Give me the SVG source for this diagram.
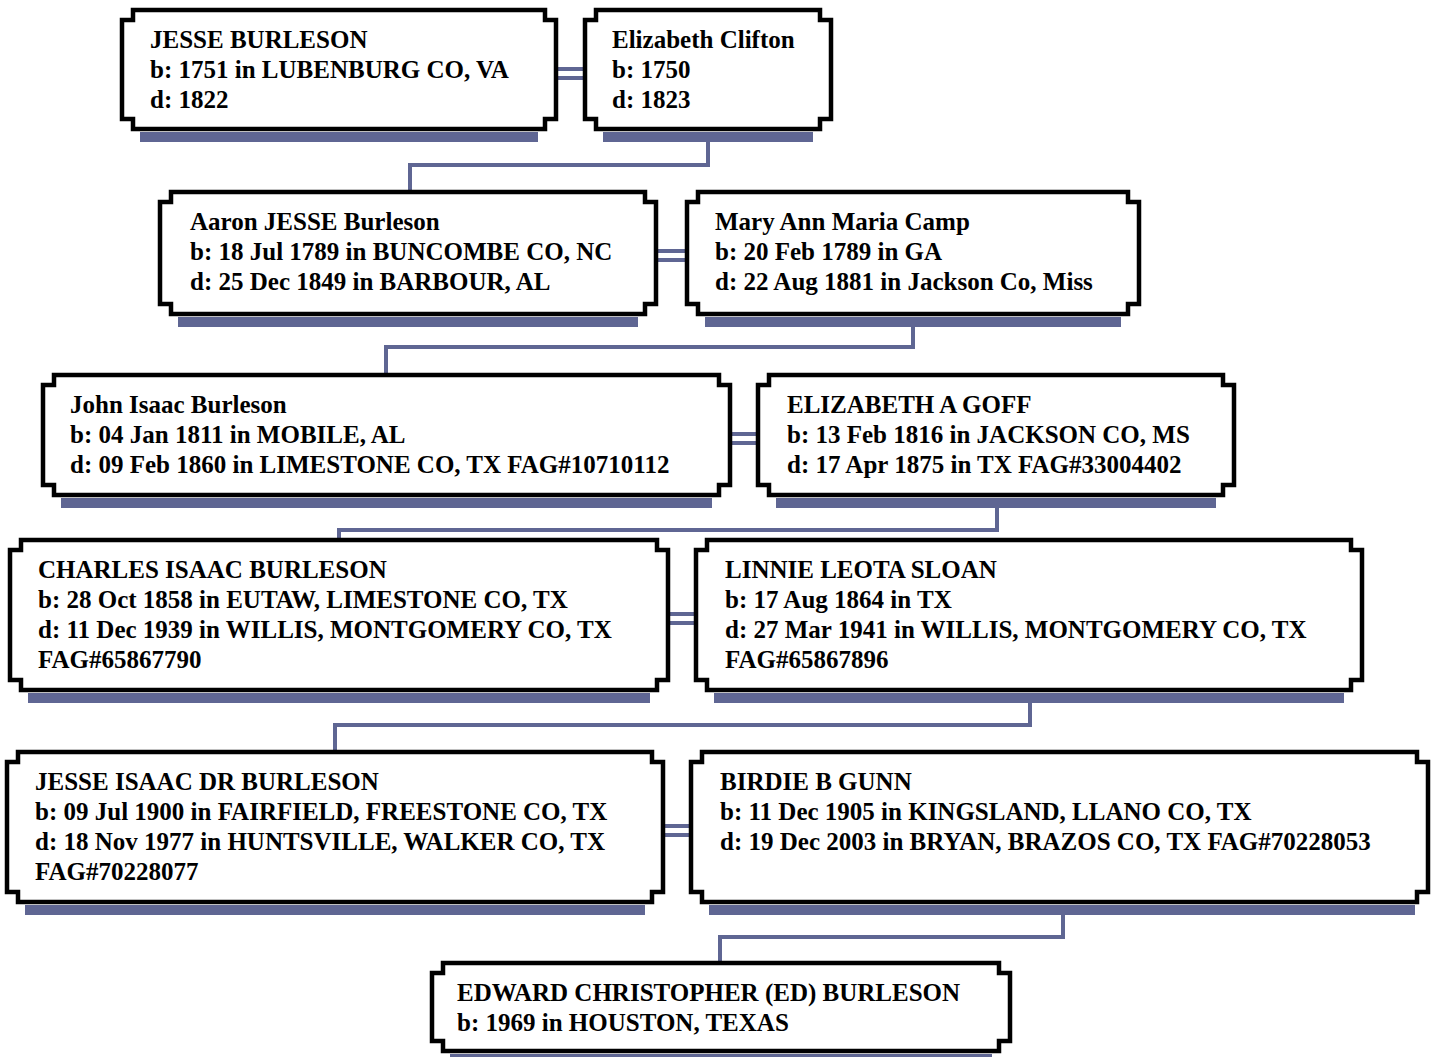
<svg xmlns="http://www.w3.org/2000/svg" width="1440" height="1057" viewBox="0 0 1440 1057">
<style>
.box{fill:#fff;stroke:#000;stroke-width:4.5;stroke-linejoin:miter}
.sh{fill:#5f6693}
.cn{fill:none;stroke:#5f6693;stroke-width:4}
text{font-family:"Liberation Serif","Times New Roman",serif;font-weight:bold;font-size:25px;fill:#000}
</style>
<rect width="1440" height="1057" fill="#fff"/>
<g id="connectors">
<path class="cn" d="M556 69H585M556 78H585"/>
<path class="cn" d="M656 251H687M656 260H687"/>
<path class="cn" d="M730 434H758M730 443H758"/>
<path class="cn" d="M668 614H696M668 623H696"/>
<path class="cn" d="M663 826H691M663 835H691"/>
<path class="cn" d="M708 142V165H410V192"/>
<path class="cn" d="M913 327V347H386V375"/>
<path class="cn" d="M997 508V530H339V540"/>
<path class="cn" d="M1030 703V725H335V752"/>
<path class="cn" d="M1063 915V937H720V963"/>
</g>
<g id="n1">
<rect class="sh" x="140" y="132" width="398" height="10"/>
<path class="box" d="M133 10H545V20H556V119H545V129H133V119H122V20H133Z"/>
<text x="150" y="48">JESSE BURLESON</text>
<text x="150" y="78">b: 1751 in LUBENBURG CO, VA</text>
<text x="150" y="108">d: 1822</text>
</g>
<g id="n2">
<rect class="sh" x="603" y="132" width="210" height="10"/>
<path class="box" d="M596 10H820V20H831V119H820V129H596V119H585V20H596Z"/>
<text x="612" y="48">Elizabeth Clifton</text>
<text x="612" y="78">b: 1750</text>
<text x="612" y="108">d: 1823</text>
</g>
<g id="n3">
<rect class="sh" x="178" y="317" width="460" height="10"/>
<path class="box" d="M171 192H645V202H656V304H645V314H171V304H160V202H171Z"/>
<text x="190" y="230">Aaron JESSE Burleson</text>
<text x="190" y="260">b: 18 Jul 1789 in BUNCOMBE CO, NC</text>
<text x="190" y="290">d: 25 Dec 1849 in BARBOUR, AL</text>
</g>
<g id="n4">
<rect class="sh" x="705" y="317" width="416" height="10"/>
<path class="box" d="M698 192H1128V202H1139V304H1128V314H698V304H687V202H698Z"/>
<text x="715" y="230">Mary Ann Maria Camp</text>
<text x="715" y="260">b: 20 Feb 1789 in GA</text>
<text x="715" y="290">d: 22 Aug 1881 in Jackson Co, Miss</text>
</g>
<g id="n5">
<rect class="sh" x="61" y="498" width="651" height="10"/>
<path class="box" d="M54 375H719V385H730V485H719V495H54V485H43V385H54Z"/>
<text x="70" y="413">John Isaac Burleson</text>
<text x="70" y="443">b: 04 Jan 1811 in MOBILE, AL</text>
<text x="70" y="473">d: 09 Feb 1860 in LIMESTONE CO, TX FAG#10710112</text>
</g>
<g id="n6">
<rect class="sh" x="776" y="498" width="440" height="10"/>
<path class="box" d="M769 375H1223V385H1234V485H1223V495H769V485H758V385H769Z"/>
<text x="787" y="413">ELIZABETH A GOFF</text>
<text x="787" y="443">b: 13 Feb 1816 in JACKSON CO, MS</text>
<text x="787" y="473">d: 17 Apr 1875 in TX FAG#33004402</text>
</g>
<g id="n7">
<rect class="sh" x="28" y="693" width="622" height="10"/>
<path class="box" d="M21 540H657V550H668V680H657V690H21V680H10V550H21Z"/>
<text x="38" y="578">CHARLES ISAAC BURLESON</text>
<text x="38" y="608">b: 28 Oct 1858 in EUTAW, LIMESTONE CO, TX</text>
<text x="38" y="638">d: 11 Dec 1939 in WILLIS, MONTGOMERY CO, TX</text>
<text x="38" y="668">FAG#65867790</text>
</g>
<g id="n8">
<rect class="sh" x="714" y="693" width="630" height="10"/>
<path class="box" d="M707 540H1351V550H1362V680H1351V690H707V680H696V550H707Z"/>
<text x="725" y="578">LINNIE LEOTA SLOAN</text>
<text x="725" y="608">b: 17 Aug 1864 in TX</text>
<text x="725" y="638">d: 27 Mar 1941 in WILLIS, MONTGOMERY CO, TX</text>
<text x="725" y="668">FAG#65867896</text>
</g>
<g id="n9">
<rect class="sh" x="25" y="905" width="620" height="10"/>
<path class="box" d="M18 752H652V762H663V892H652V902H18V892H7V762H18Z"/>
<text x="35" y="790">JESSE ISAAC DR BURLESON</text>
<text x="35" y="820">b: 09 Jul 1900 in FAIRFIELD, FREESTONE CO, TX</text>
<text x="35" y="850">d: 18 Nov 1977 in HUNTSVILLE, WALKER CO, TX</text>
<text x="35" y="880">FAG#70228077</text>
</g>
<g id="n10">
<rect class="sh" x="709" y="905" width="706" height="10"/>
<path class="box" d="M702 752H1417V762H1428V892H1417V902H702V892H691V762H702Z"/>
<text x="720" y="790">BIRDIE B GUNN</text>
<text x="720" y="820">b: 11 Dec 1905 in KINGSLAND, LLANO CO, TX</text>
<text x="720" y="850">d: 19 Dec 2003 in BRYAN, BRAZOS CO, TX FAG#70228053</text>
</g>
<g id="n11">
<rect class="sh" x="450" y="1054" width="542" height="10"/>
<path class="box" d="M443 963H999V973H1010V1041H999V1051H443V1041H432V973H443Z"/>
<text x="457" y="1001">EDWARD CHRISTOPHER (ED) BURLESON</text>
<text x="457" y="1031">b: 1969 in HOUSTON, TEXAS</text>
</g>
</svg>
